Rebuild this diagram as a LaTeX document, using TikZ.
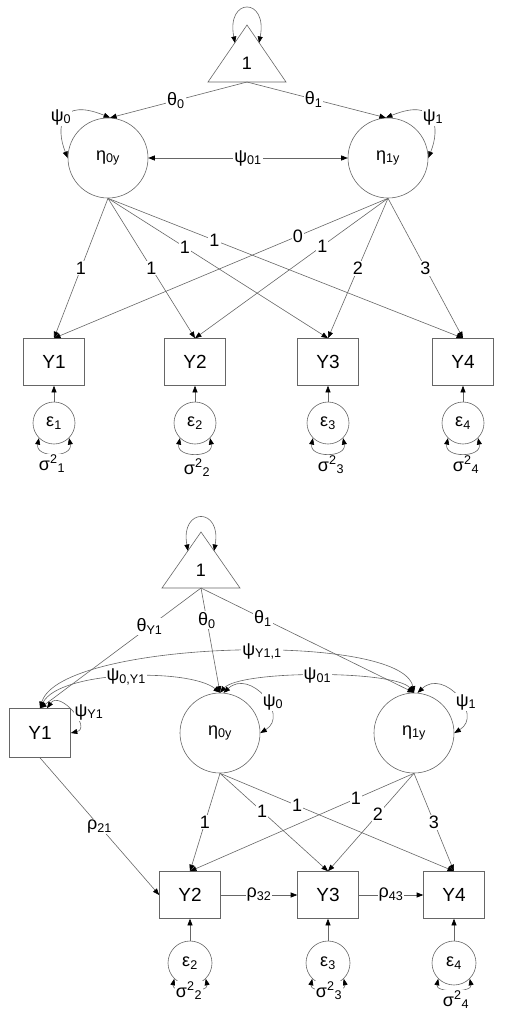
\documentclass[tikz,border=0pt]{standalone}
\usepackage{fontspec}
\setmainfont{Liberation Sans}
\usetikzlibrary{arrows.meta}
\begin{document}
\begin{tikzpicture}[x=1pt,y=-1pt,
  gline/.style={draw=black!60, line width=0.6pt},
  tip/.tip={Triangle[length=6.5pt,width=5pt,color=black]},
  arr/.style={gline, -tip},
  darr/.style={gline, tip-tip},
  latent/.style={circle, gline, minimum size=80pt, inner sep=0pt, font=\fontsize{18}{20}\selectfont},
  err/.style={circle, gline, minimum size=42pt, inner sep=0pt, font=\fontsize{18}{20}\selectfont},
  obs/.style={rectangle, gline, minimum width=61pt, minimum height=47pt, inner sep=0pt, font=\fontsize{19}{21}\selectfont},
  lab/.style={fill=white, inner sep=1pt, font=\fontsize{18}{20}\selectfont},
  one/.style={inner sep=0pt, font=\fontsize{18}{20}\selectfont}
]
\useasboundingbox (0,0) rectangle (504,1015);

% ================= TOP MODEL =================
\coordinate (T1apex) at (247,25);
\coordinate (T1l) at (235,43);
\coordinate (T1r) at (259,43);
\coordinate (T1b) at (247,82);
\draw[gline] (T1apex) -- (208,82) -- (286,82) -- cycle;
\node[one] (T1) at (247,63) {1};
\draw[darr] (T1l) .. controls (226,-3) and (268,-3) .. (T1r);

\node[latent] (eta0) at (108,158) {η\textsubscript{0y}};
\node[latent] (eta1) at (388,158) {η\textsubscript{1y}};

\node[obs] (Y1) at (54,362) {Y1};
\node[obs] (Y2) at (195,362) {Y2};
\node[obs] (Y3) at (328,362) {Y3};
\node[obs] (Y4) at (463,362) {Y4};

\node[err] (e1) at (54,423) {ε\textsubscript{1}};
\node[err] (e2) at (195,423) {ε\textsubscript{2}};
\node[err] (e3) at (328,423) {ε\textsubscript{3}};
\node[err] (e4) at (463,423) {ε\textsubscript{4}};

% means
\draw[arr] (T1b) -- (eta0.87) node[lab, pos=0.52] {θ\textsubscript{0}};
\draw[arr] (T1b) -- (eta1.93) node[lab, pos=0.48] {θ\textsubscript{1}};

% variances of latents
\draw[darr] (eta0.180) .. controls +(-12,-30) and +(-51,-21) .. (eta0.87);
\node[lab] (psi0) at (61,117) {ψ\textsubscript{0}};
\draw[darr] (eta1.0) .. controls +(12,-30) and +(51,-21) .. (eta1.93);
\node[lab] (psi1) at (433,117) {ψ\textsubscript{1}};

% covariance
\draw[darr] (eta0) -- (eta1) node[lab, midway] {ψ\textsubscript{01}};

% loadings
\draw[arr] (eta0.south) -- (Y1.north) node[lab, pos=0.5] {1};
\draw[arr] (eta0.south) -- (Y2.north) node[lab, pos=0.5] {1};
\draw[arr] (eta0.south) -- (Y3.north) node[lab, pos=0.35] {1};
\draw[arr] (eta0.south) -- (Y4.north) node[lab, pos=0.3] {1};
\draw[arr] (eta1.south) -- (Y1.north) node[lab, pos=0.27] {0};
\draw[arr] (eta1.south) -- (Y2.north) node[lab, pos=0.34] {1};
\draw[arr] (eta1.south) -- (Y3.north) node[lab, pos=0.5] {2};
\draw[arr] (eta1.south) -- (Y4.north) node[lab, pos=0.5] {3};

% errors
\foreach \i in {1,2,3,4}{
  \draw[arr] (e\i.north) -- (Y\i.south);
  \draw[darr] (e\i.225) .. controls +(-4,20) and +(4,20) .. (e\i.315);
}
\node[lab] (s1) at (52,464) {σ\textsuperscript{2}\textsubscript{1}};
\node[lab] (s2) at (197,468) {σ\textsuperscript{2}\textsubscript{2}};
\node[lab] (s3) at (331,465) {σ\textsuperscript{2}\textsubscript{3}};
\node[lab] (s4) at (466,465) {σ\textsuperscript{2}\textsubscript{4}};

% ================= BOTTOM MODEL =================
\coordinate (T2apex) at (201,532);
\coordinate (T2l) at (188,551);
\coordinate (T2r) at (214,551);
\coordinate (T2b) at (201,588);
\draw[gline] (T2apex) -- (162,588) -- (240,588) -- cycle;
\node[one] (T2) at (201,570) {1};
\draw[darr] (T2l) .. controls (180,507) and (222,507) .. (T2r);

\node[latent] (beta0) at (220,733) {η\textsubscript{0y}};
\node[latent] (beta1) at (414,733) {η\textsubscript{1y}};

\node[obs, minimum height=49pt] (bY1) at (40,733) {Y1};
\node[obs] (bY2) at (190,895) {Y2};
\node[obs] (bY3) at (328,895) {Y3};
\node[obs] (bY4) at (454,895) {Y4};

\node[err, minimum size=44pt] (be2) at (190,963) {ε\textsubscript{2}};
\node[err, minimum size=44pt] (be3) at (328,963) {ε\textsubscript{3}};
\node[err, minimum size=44pt] (be4) at (454,963) {ε\textsubscript{4}};

% covariances (curved)
\draw[darr] (bY1.north) .. controls (60,640) and (402,631) .. (beta1.north)
  node[lab, pos=0.56] {ψ\textsubscript{Y1,1}};
\draw[darr] (bY1.north) .. controls (60,670) and (190,668) .. (beta0.north)
  node[lab, pos=0.5] {ψ\textsubscript{0,Y1}};
\draw[darr] (beta0.north) .. controls (240,670) and (395,670) .. (beta1.north)
  node[lab, pos=0.5] {ψ\textsubscript{01}};

% means
\draw[arr] (T2b) -- (bY1.north) node[lab, pos=0.32] {θ\textsubscript{Y1}};
\draw[arr] (T2b) -- (beta0.north) node[lab, pos=0.31] {θ\textsubscript{0}};
\draw[arr] (T2b) -- (beta1.north) node[lab, pos=0.29] {θ\textsubscript{1}};

% variances
\draw[darr] (beta0.85) .. controls (250,668) and (290,715) .. (beta0.east);
\node[lab] (bpsi0) at (273,702) {ψ\textsubscript{0}};
\draw[darr] (beta1.85) .. controls (444,668) and (484,715) .. (beta1.east);
\node[lab] (bpsi1) at (466,702) {ψ\textsubscript{1}};
\draw[darr] ([xshift=7pt]bY1.north) .. controls (60,690) and (92,728) .. (bY1.east);
\node[lab] (bpsiY1) at (89,712) {ψ\textsubscript{Y1}};

% autoregression
\draw[arr] (bY1.south) -- (bY2.west) node[lab, pos=0.5] {ρ\textsubscript{21}};
\draw[arr] (bY2.east) -- (bY3.west) node[lab, midway] {ρ\textsubscript{32}};
\draw[arr] (bY3.east) -- (bY4.west) node[lab, midway] {ρ\textsubscript{43}};

% loadings
\draw[arr] (beta0.south) -- (bY2.north) node[lab, pos=0.5] {1};
\draw[arr] (beta0.south) -- (bY3.north) node[lab, pos=0.39] {1};
\draw[arr] (beta0.south) -- (bY4.north) node[lab, pos=0.33] {1};
\draw[arr] (beta1.south) -- (bY2.north) node[lab, pos=0.26] {1};
\draw[arr] (beta1.south) -- (bY3.north) node[lab, pos=0.42] {2};
\draw[arr] (beta1.south) -- (bY4.north) node[lab, pos=0.5] {3};

% errors
\foreach \i in {2,3,4}{
  \draw[arr] (be\i.north) -- (bY\i.south);
  \draw[darr] (be\i.225) .. controls +(-3,14) and +(3,14) .. (be\i.315);
}
\node[lab] (bs2) at (189,991) {σ\textsuperscript{2}\textsubscript{2}};
\node[lab] (bs3) at (329,991) {σ\textsuperscript{2}\textsubscript{3}};
\node[lab] (bs4) at (456,1000) {σ\textsuperscript{2}\textsubscript{4}};
\end{tikzpicture}
\end{document}
